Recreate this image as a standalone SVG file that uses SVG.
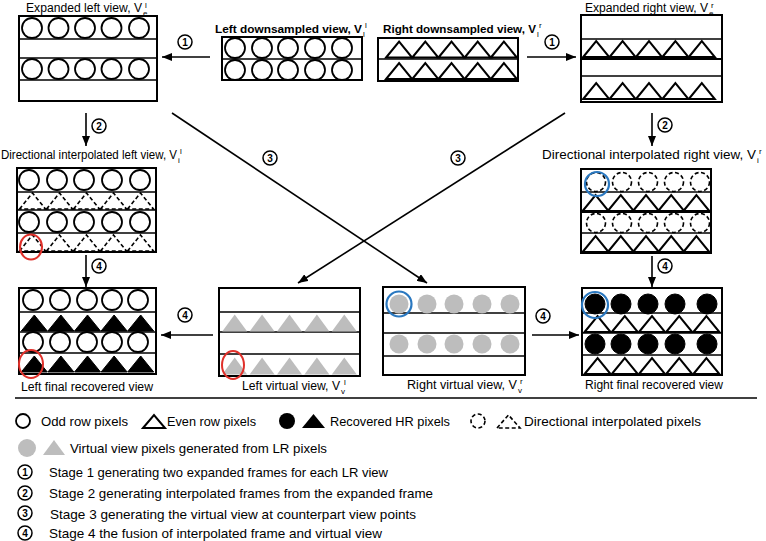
<svg xmlns="http://www.w3.org/2000/svg" xmlns:xlink="http://www.w3.org/1999/xlink" width="766" height="541" viewBox="0 0 766 541">
<style>
text{font-family:"Liberation Sans",Arial,sans-serif;fill:#000}
.lbl{font-size:12px}
.bl{font-size:11.5px;font-weight:bold}
.lg{font-size:13px}
.sc{font-size:8px}
.box{fill:#fff;stroke:#000;stroke-width:2}
.row{stroke:#000;stroke-width:1.6}
.oc{fill:#fff;stroke:#000;stroke-width:1.8}
.dc{fill:#fff;stroke:#000;stroke-width:1.6;stroke-dasharray:4 2.5}
.bc{fill:#000;stroke:#000;stroke-width:1}
.gc{fill:#bdbdbd;stroke:none}
.wt{fill:#fff;stroke:#000;stroke-width:2;stroke-linejoin:miter}
.dt{fill:none;stroke:#000;stroke-width:1.6;stroke-dasharray:4 2.5}
.kt{fill:#000;stroke:#000;stroke-width:1}
.gt{fill:#bdbdbd;stroke:none}
.red{fill:none;stroke:#e0302a;stroke-width:2}
.blue{fill:none;stroke:#2a78c0;stroke-width:2.2}
.conn{stroke:#000;stroke-width:1.6;fill:none}
.num circle{fill:#fff;stroke:#000;stroke-width:1.5}
.num text{font-size:10px;font-weight:bold;text-anchor:middle}
</style>
<defs>
<circle id="c" r="10"/>
<circle id="cs" r="9.5"/>
<polygon id="t" points="-13,8 0,-8 13,8"/>
<polygon id="tg" points="-12.5,8.5 0,-8.5 12.5,8.5"/>
<marker id="ah" markerUnits="userSpaceOnUse" markerWidth="10" markerHeight="8" refX="10" refY="4" orient="auto">
<path d="M0,0 L10,4 L0,8 z" fill="#000"/>
</marker>
<g id="n1" class="num"><circle r="7"/><text y="3.6">1</text></g>
<g id="n2" class="num"><circle r="7"/><text y="3.6">2</text></g>
<g id="n3" class="num"><circle r="7"/><text y="3.6">3</text></g>
<g id="n4" class="num"><circle r="7"/><text y="3.6">4</text></g>
</defs>

<g id="connectors">
<line class="conn" x1="210" y1="57" x2="162" y2="57" marker-end="url(#ah)"/>
<line class="conn" x1="527" y1="57" x2="576" y2="57" marker-end="url(#ah)"/>
<line class="conn" x1="86" y1="113" x2="86" y2="146" marker-end="url(#ah)"/>
<line class="conn" x1="652" y1="113" x2="652" y2="146" marker-end="url(#ah)"/>
<line class="conn" x1="86" y1="255" x2="86" y2="287" marker-end="url(#ah)"/>
<line class="conn" x1="652" y1="256" x2="652" y2="287" marker-end="url(#ah)"/>
<line class="conn" x1="213" y1="335" x2="161" y2="335" marker-end="url(#ah)"/>
<line class="conn" x1="532" y1="335" x2="579" y2="335" marker-end="url(#ah)"/>
<line class="conn" x1="172" y1="113" x2="427" y2="283" marker-end="url(#ah)"/>
<line class="conn" x1="565" y1="113" x2="298" y2="283" marker-end="url(#ah)"/>
<use href="#n1" x="185" y="42"/>
<use href="#n1" x="552" y="42"/>
<use href="#n2" x="99" y="126"/>
<use href="#n2" x="665" y="125"/>
<use href="#n3" x="270" y="158"/>
<use href="#n3" x="458" y="158"/>
<use href="#n4" x="99" y="266"/>
<use href="#n4" x="665" y="266"/>
<use href="#n4" x="185" y="315"/>
<use href="#n4" x="543" y="316"/>
</g>

<g id="expanded-left">
<text class="lbl" x="26" y="12" textLength="116" lengthAdjust="spacingAndGlyphs">Expanded left view, V</text>
<text class="sc" x="143" y="16">e</text><text class="sc" x="145" y="8">l</text>
<rect class="box" x="19" y="16" width="138" height="85"/>
<line class="row" x1="19" y1="39" x2="157" y2="39"/>
<line class="row" x1="19" y1="58" x2="157" y2="58"/>
<line class="row" x1="19" y1="80" x2="157" y2="80"/>
<use href="#c" class="oc" x="32" y="28"/><use href="#c" class="oc" x="58.5" y="28"/><use href="#c" class="oc" x="85" y="28"/><use href="#c" class="oc" x="111.5" y="28"/><use href="#c" class="oc" x="139" y="28"/>
<use href="#c" class="oc" x="32" y="69"/><use href="#c" class="oc" x="58.5" y="69"/><use href="#c" class="oc" x="85" y="69"/><use href="#c" class="oc" x="111.5" y="69"/><use href="#c" class="oc" x="139" y="69"/>
</g>

<g id="left-downsampled">
<text class="bl" x="215" y="33" textLength="147" lengthAdjust="spacingAndGlyphs">Left downsampled view, V</text>
<text class="sc" x="363" y="37">l</text><text class="sc" x="365" y="28">l</text>
<rect class="box" x="222" y="37" width="140" height="43"/>
<line class="row" x1="222" y1="59" x2="362" y2="59"/>
<use href="#c" class="oc" x="235" y="48"/><use href="#c" class="oc" x="262" y="48"/><use href="#c" class="oc" x="288" y="48"/><use href="#c" class="oc" x="315" y="48"/><use href="#c" class="oc" x="342" y="48"/>
<use href="#c" class="oc" x="235" y="70"/><use href="#c" class="oc" x="262" y="70"/><use href="#c" class="oc" x="288" y="70"/><use href="#c" class="oc" x="315" y="70"/><use href="#c" class="oc" x="342" y="70"/>
</g>

<g id="right-downsampled">
<text class="bl" x="383" y="33" textLength="153" lengthAdjust="spacingAndGlyphs">Right downsampled view, V</text>
<text class="sc" x="537" y="37">l</text><text class="sc" x="539" y="28">r</text>
<rect class="box" x="378" y="38" width="140" height="43"/>
<line class="row" x1="378" y1="59" x2="518" y2="59"/>
<use href="#t" class="wt" x="399.1" y="49.5"/><use href="#t" class="wt" x="425.3" y="49.5"/><use href="#t" class="wt" x="451.5" y="49.5"/><use href="#t" class="wt" x="477.7" y="49.5"/><use href="#t" class="wt" x="503.9" y="49.5"/>
<use href="#t" class="wt" x="399.1" y="71"/><use href="#t" class="wt" x="425.3" y="71"/><use href="#t" class="wt" x="451.5" y="71"/><use href="#t" class="wt" x="477.7" y="71"/><use href="#t" class="wt" x="503.9" y="71"/>
</g>

<g id="expanded-right">
<text class="lbl" x="585" y="12" textLength="123" lengthAdjust="spacingAndGlyphs">Expanded right view, V</text>
<text class="sc" x="709" y="16">e</text><text class="sc" x="711" y="8">r</text>
<rect class="box" x="581" y="15" width="141" height="87"/>
<line class="row" x1="581" y1="39" x2="722" y2="39"/>
<line class="row" x1="581" y1="59" x2="722" y2="59" style="stroke-width:2.2"/>
<line class="row" x1="581" y1="76" x2="722" y2="76"/>
<use href="#t" class="wt" x="596.2" y="49"/><use href="#t" class="wt" x="622.6" y="49"/><use href="#t" class="wt" x="649" y="49"/><use href="#t" class="wt" x="675.4" y="49"/><use href="#t" class="wt" x="701.8" y="49"/>
<use href="#t" class="wt" x="596.2" y="91"/><use href="#t" class="wt" x="622.6" y="91"/><use href="#t" class="wt" x="649" y="91"/><use href="#t" class="wt" x="675.4" y="91"/><use href="#t" class="wt" x="701.8" y="91"/>
</g>

<g id="interpolated-left">
<text class="lbl" x="1" y="159" textLength="176" lengthAdjust="spacingAndGlyphs">Directional interpolated left view, V</text>
<text class="sc" x="178" y="163">i</text><text class="sc" x="180" y="154">l</text>
<rect class="box" x="17" y="168" width="139" height="84"/>
<line class="row" x1="17" y1="192" x2="156" y2="192"/>
<line class="row" x1="17" y1="210" x2="156" y2="210"/>
<line class="row" x1="17" y1="233" x2="156" y2="233"/>
<use href="#c" class="oc" x="29" y="180"/><use href="#c" class="oc" x="57" y="180"/><use href="#c" class="oc" x="84" y="180"/><use href="#c" class="oc" x="112" y="180"/><use href="#c" class="oc" x="140" y="180"/>
<use href="#c" class="oc" x="29" y="222"/><use href="#c" class="oc" x="57" y="222"/><use href="#c" class="oc" x="84" y="222"/><use href="#c" class="oc" x="112" y="222"/><use href="#c" class="oc" x="140" y="222"/>
<use href="#t" class="dt" x="32.5" y="201"/><use href="#t" class="dt" x="59.5" y="201"/><use href="#t" class="dt" x="86.5" y="201"/><use href="#t" class="dt" x="113.5" y="201"/><use href="#t" class="dt" x="140.5" y="201"/>
<use href="#t" class="dt" x="32.5" y="243"/><use href="#t" class="dt" x="59.5" y="243"/><use href="#t" class="dt" x="86.5" y="243"/><use href="#t" class="dt" x="113.5" y="243"/><use href="#t" class="dt" x="140.5" y="243"/>
<ellipse class="red" cx="31" cy="247" rx="11" ry="12.5"/>
</g>

<g id="interpolated-right">
<text class="lbl" x="542" y="159" textLength="214" lengthAdjust="spacingAndGlyphs">Directional interpolated right view, V</text>
<text class="sc" x="757" y="163">i</text><text class="sc" x="759" y="154">r</text>
<rect class="box" x="581" y="169" width="130" height="84"/>
<line class="row" x1="581" y1="192" x2="711" y2="192"/>
<line class="row" x1="581" y1="212" x2="711" y2="212" style="stroke-width:2.2"/>
<line class="row" x1="581" y1="233" x2="711" y2="233"/>
<use href="#cs" class="dc" x="596" y="182"/><use href="#cs" class="dc" x="622" y="182"/><use href="#cs" class="dc" x="648" y="182"/><use href="#cs" class="dc" x="674" y="182"/><use href="#cs" class="dc" x="700" y="182"/>
<use href="#cs" class="dc" x="596" y="223"/><use href="#cs" class="dc" x="622" y="223"/><use href="#cs" class="dc" x="648" y="223"/><use href="#cs" class="dc" x="674" y="223"/><use href="#cs" class="dc" x="700" y="223"/>
<use href="#t" class="wt" x="595.6" y="203"/><use href="#t" class="wt" x="620.8" y="203"/><use href="#t" class="wt" x="646" y="203"/><use href="#t" class="wt" x="671.2" y="203"/><use href="#t" class="wt" x="696.4" y="203"/>
<use href="#t" class="wt" x="595.6" y="244"/><use href="#t" class="wt" x="620.8" y="244"/><use href="#t" class="wt" x="646" y="244"/><use href="#t" class="wt" x="671.2" y="244"/><use href="#t" class="wt" x="696.4" y="244"/>
<circle class="blue" cx="597" cy="184" r="12"/>
</g>

<g id="left-final">
<rect class="box" x="19" y="288" width="137" height="86"/>
<line class="row" x1="19" y1="312" x2="156" y2="312"/>
<line class="row" x1="19" y1="332" x2="156" y2="332"/>
<line class="row" x1="19" y1="353" x2="156" y2="353"/>
<use href="#c" class="oc" x="33" y="300"/><use href="#c" class="oc" x="60" y="300"/><use href="#c" class="oc" x="87" y="300"/><use href="#c" class="oc" x="112" y="300"/><use href="#c" class="oc" x="138" y="300"/>
<use href="#c" class="oc" x="33" y="342"/><use href="#c" class="oc" x="60" y="342"/><use href="#c" class="oc" x="87" y="342"/><use href="#c" class="oc" x="112" y="342"/><use href="#c" class="oc" x="138" y="342"/>
<use href="#t" class="kt" x="34.3" y="323"/><use href="#t" class="kt" x="60.9" y="323"/><use href="#t" class="kt" x="87.5" y="323"/><use href="#t" class="kt" x="114.1" y="323"/><use href="#t" class="kt" x="140.7" y="323"/>
<use href="#t" class="kt" x="34.3" y="364"/><use href="#t" class="kt" x="60.9" y="364"/><use href="#t" class="kt" x="87.5" y="364"/><use href="#t" class="kt" x="114.1" y="364"/><use href="#t" class="kt" x="140.7" y="364"/>
<ellipse class="red" cx="31" cy="364" rx="12" ry="14"/>
<text class="lbl" x="21" y="391" textLength="132" lengthAdjust="spacingAndGlyphs">Left final recovered view</text>
</g>

<g id="left-virtual">
<rect class="box" x="219" y="288" width="141" height="88"/>
<line class="row" x1="219" y1="312" x2="360" y2="312"/>
<line class="row" x1="219" y1="332" x2="360" y2="332"/>
<line class="row" x1="219" y1="354" x2="360" y2="354"/>
<use href="#tg" class="gt" x="234.7" y="323"/><use href="#tg" class="gt" x="262.1" y="323"/><use href="#tg" class="gt" x="289.5" y="323"/><use href="#tg" class="gt" x="316.9" y="323"/><use href="#tg" class="gt" x="344.3" y="323"/>
<use href="#tg" class="gt" x="234.7" y="366"/><use href="#tg" class="gt" x="262.1" y="366"/><use href="#tg" class="gt" x="289.5" y="366"/><use href="#tg" class="gt" x="316.9" y="366"/><use href="#tg" class="gt" x="344.3" y="366"/>
<ellipse class="red" cx="233" cy="365" rx="11" ry="14"/>
<text class="lbl" x="242" y="390" textLength="98" lengthAdjust="spacingAndGlyphs">Left virtual view, V</text>
<text class="sc" x="341" y="394">v</text><text class="sc" x="344" y="385">l</text>
</g>

<g id="right-virtual">
<rect class="box" x="383" y="287" width="142" height="88"/>
<line class="row" x1="383" y1="313" x2="525" y2="313"/>
<line class="row" x1="383" y1="333" x2="525" y2="333"/>
<line class="row" x1="383" y1="356" x2="525" y2="356"/>
<use href="#cs" class="gc" x="399" y="304"/><use href="#cs" class="gc" x="427" y="304"/><use href="#cs" class="gc" x="454" y="304"/><use href="#cs" class="gc" x="482" y="304"/><use href="#cs" class="gc" x="510" y="304"/>
<use href="#cs" class="gc" x="399" y="344"/><use href="#cs" class="gc" x="427" y="344"/><use href="#cs" class="gc" x="454" y="344"/><use href="#cs" class="gc" x="482" y="344"/><use href="#cs" class="gc" x="510" y="344"/>
<circle class="blue" cx="399" cy="304" r="12.5"/>
<text class="lbl" x="407" y="389" textLength="110" lengthAdjust="spacingAndGlyphs">Right virtual view, V</text>
<text class="sc" x="518" y="393">v</text><text class="sc" x="520" y="384">r</text>
</g>

<g id="right-final">
<rect class="box" x="582" y="288" width="140" height="87"/>
<line class="row" x1="582" y1="313" x2="722" y2="313"/>
<line class="row" x1="582" y1="333" x2="722" y2="333"/>
<line class="row" x1="582" y1="355" x2="722" y2="355"/>
<use href="#c" class="bc" x="595" y="304"/><use href="#c" class="bc" x="621" y="304"/><use href="#c" class="bc" x="648" y="304"/><use href="#c" class="bc" x="675" y="304"/><use href="#c" class="bc" x="707" y="304"/>
<use href="#c" class="bc" x="595" y="344"/><use href="#c" class="bc" x="621" y="344"/><use href="#c" class="bc" x="648" y="344"/><use href="#c" class="bc" x="675" y="344"/><use href="#c" class="bc" x="707" y="344"/>
<use href="#t" class="wt" x="597.6" y="324"/><use href="#t" class="wt" x="624.8" y="324"/><use href="#t" class="wt" x="652" y="324"/><use href="#t" class="wt" x="679.2" y="324"/><use href="#t" class="wt" x="706.4" y="324"/>
<use href="#t" class="wt" x="597.6" y="366"/><use href="#t" class="wt" x="624.8" y="366"/><use href="#t" class="wt" x="652" y="366"/><use href="#t" class="wt" x="679.2" y="366"/><use href="#t" class="wt" x="706.4" y="366"/>
<circle class="blue" cx="595" cy="305" r="13"/>
<text class="lbl" x="585" y="389" textLength="138" lengthAdjust="spacingAndGlyphs">Right final recovered view</text>
</g>

<line x1="15" y1="398" x2="757" y2="398" stroke="#000" stroke-width="1.6"/>

<g id="legend">
<circle cx="23" cy="421" r="7" class="oc"/>
<text class="lg" x="41" y="426" textLength="87" lengthAdjust="spacingAndGlyphs">Odd row pixels</text>
<polygon class="wt" points="143,428 154,415 165,428"/>
<text class="lg" x="167" y="426" textLength="89" lengthAdjust="spacingAndGlyphs">Even row pixels</text>
<circle cx="287" cy="421" r="8" fill="#000"/>
<polygon points="302,428 313.5,414 325,428" fill="#000"/>
<text class="lg" x="330" y="426" textLength="120" lengthAdjust="spacingAndGlyphs">Recovered HR pixels</text>
<circle cx="478" cy="421" r="7" class="dc"/>
<polygon class="dt" points="497,428 508.5,415 520,428"/>
<text class="lg" x="524" y="426" textLength="177" lengthAdjust="spacingAndGlyphs">Directional interpolated pixels</text>
<circle cx="27" cy="448" r="9" fill="#bdbdbd"/>
<polygon points="43,455 54,440 65,455" fill="#bdbdbd"/>
<text class="lg" x="70" y="453" textLength="257" lengthAdjust="spacingAndGlyphs">Virtual view pixels generated from LR pixels</text>
<use href="#n1" x="25" y="472"/>
<text class="lg" x="49" y="477" textLength="339" lengthAdjust="spacingAndGlyphs">Stage 1 generating two expanded frames for each LR view</text>
<use href="#n2" x="25" y="493"/>
<text class="lg" x="49" y="498" textLength="384" lengthAdjust="spacingAndGlyphs">Stage 2 generating interpolated frames from the expanded frame</text>
<use href="#n3" x="25" y="513"/>
<text class="lg" x="50" y="519" textLength="366" lengthAdjust="spacingAndGlyphs">Stage 3 generating the virtual view at counterpart view points</text>
<use href="#n4" x="25" y="533"/>
<text class="lg" x="49" y="538" textLength="333" lengthAdjust="spacingAndGlyphs">Stage 4 the fusion of interpolated frame and virtual view</text>
</g>
</svg>
